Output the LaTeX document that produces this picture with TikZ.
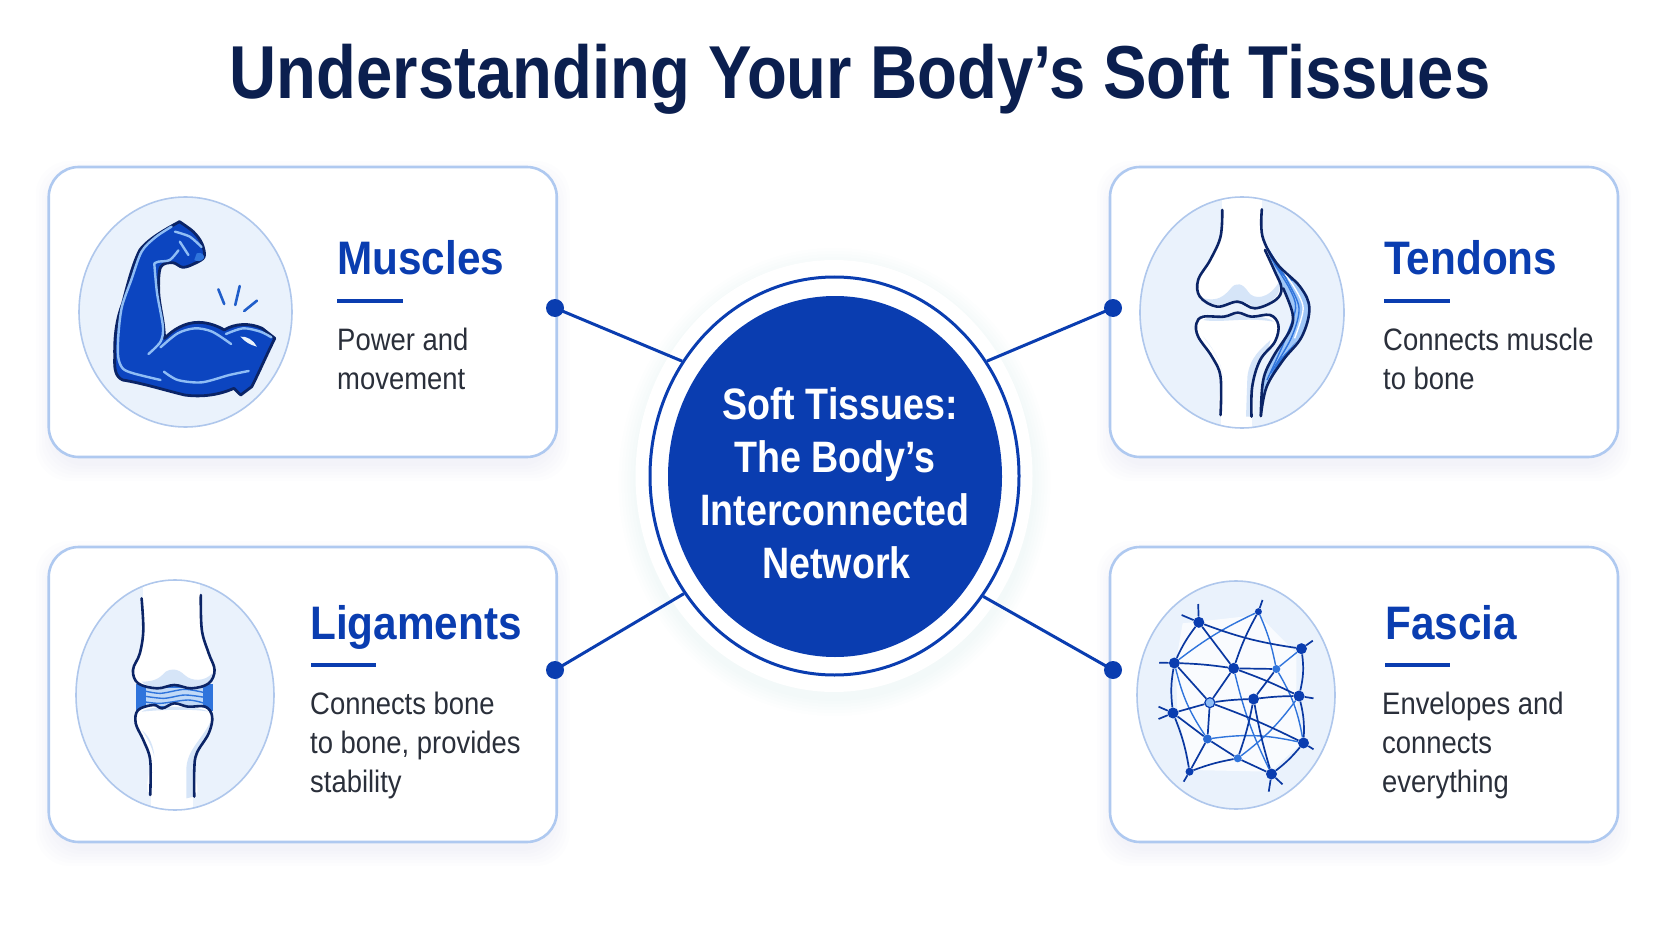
\documentclass[tikz,border=0pt]{standalone}
\usepackage{fontspec}
\usetikzlibrary{shapes.geometric}
\setmainfont{Liberation Sans}
\newfontfamily\titlefont[FakeStretch=0.87]{Liberation Sans}
\newfontfamily\headfont[FakeStretch=0.90]{Liberation Sans}
\newfontfamily\bodyfont[FakeStretch=0.885]{Liberation Sans}
\newfontfamily\hubfont[FakeStretch=0.855]{Liberation Sans}
\definecolor{navy}{HTML}{0B1F4F}
\definecolor{royal}{HTML}{0A3DB0}
\definecolor{muscleblue}{HTML}{0C45C0}
\definecolor{cardline}{HTML}{AFC9F0}
\definecolor{iconfill}{HTML}{EAF2FC}
\definecolor{iconline}{HTML}{AFC7EC}
\definecolor{bodyink}{HTML}{2A2F3A}
\definecolor{boneline}{HTML}{0B2466}
\definecolor{boneshade}{HTML}{D6E5F8}
\definecolor{glow}{HTML}{8FBDF5}
\definecolor{midblue}{HTML}{2F74DC}
\definecolor{shadowink}{HTML}{6F8FC8}
\tikzset{
  x=1pt, y=-1pt,
  cardbox/.style={draw=cardline, line width=2.6pt, fill=white, rounded corners=30pt,
    minimum width=508pt, inner sep=0pt},
  iconback/.style={ellipse, draw=iconline, line width=1.6pt, fill=iconfill, inner sep=0pt},
  heading/.style={anchor=base west, inner sep=0pt, text=royal, font=\headfont\bfseries\fontsize{47}{50}\selectfont},
  bodytext/.style={anchor=north west, inner sep=0pt, align=left, text=bodyink,
    font=\bodyfont\fontsize{31}{39.4}\selectfont},
  headrule/.style={draw=royal, line width=3.6pt},
  joiner/.style={draw=royal, line width=3pt},
  portdot/.style={circle, fill=royal, minimum size=18pt, inner sep=0pt},
  zoomed/.style={x=0.34435pt, y=-0.33333pt},
  bone/.style={draw=boneline, line width=2.6pt, line cap=round, line join=round},
  fasciadot/.style={circle, fill=#1, inner sep=0pt, minimum size=11pt},
  fasciadot/.default=royal,
  webdark/.style={draw=royal!85!navy, line width=1.7pt},
  weblight/.style={draw=midblue, line width=1.4pt},
}
\begin{document}
\begin{tikzpicture}
\useasboundingbox (0,0) rectangle (1672,941);
\fill[white] (0,0) rectangle (1672,941);

% soft shadows under the four cards
\foreach \cx/\cy/\ch in {302.75/312/290, 1364/312/290, 302.75/694.5/295, 1364/694.5/295}{
  \foreach \g in {16,13,...,1}{
    \fill[shadowink, opacity=0.012, rounded corners=34pt]
      (\cx-254-\g+3, \cy-\ch/2-\g+10) rectangle (\cx+254+\g-3, \cy+\ch/2+\g+8);
  }
}

% cards
\node[cardbox, minimum height=290pt] (cardA) at (302.75,312) {};
\node[cardbox, minimum height=290pt] (cardB) at (1364,312) {};
\node[cardbox, minimum height=295pt] (cardC) at (302.75,694.5) {};
\node[cardbox, minimum height=295pt] (cardD) at (1364,694.5) {};

% shadow and white halo of the central disc
\foreach \g in {18,15,...,1}{
  \fill[shadowink, opacity=0.009] (834.5,482) ellipse [x radius=198+\g, y radius=216+\g];
}
\node[ellipse, fill=white, minimum width=397pt, minimum height=432pt, inner sep=0pt] (halo) at (834,476) {};
\node[ellipse, draw=royal, line width=3pt, fill=white, minimum width=369pt, minimum height=398pt, inner sep=0pt] (hub) at (834.5,476) {};
\node[ellipse, fill=royal, minimum width=334pt, minimum height=361pt, inner sep=0pt] (hubcore) at (835,476.5) {};
\node[align=center, text=white, inner sep=0pt, font=\hubfont\bfseries\fontsize{44}{53}\selectfont] (hubtext) at (835,483)
  {\hspace*{10pt}Soft Tissues:\\The Body’s\\Interconnected\\\hspace*{3pt}Network};

% connectors with their end dots
\node[portdot] (dotA) at (555,308) {};
\node[portdot] (dotB) at (1113,308) {};
\node[portdot] (dotC) at (555,670) {};
\node[portdot] (dotD) at (1113,670) {};
\draw[joiner] (dotA.center) -- (hub.143);
\draw[joiner] (dotB.center) -- (hub.37);
\draw[joiner] (dotC.center) -- (hub.218.5);
\draw[joiner] (dotD.center) -- (hub.321.5);

% title
\node[anchor=base, inner sep=0pt, text=navy, font=\titlefont\bfseries\fontsize{75}{78}\selectfont] (title) at (860,99)
  {Understanding Your Body’s Soft Tissues};

% card text
\node[heading] (headA) at (337,275) {Muscles};
\draw[headrule] (337,301) -- (403,301);
\node[bodytext] (bodyA) at (337,327.5) {Power and\\movement};

\node[heading] (headB) at (1384,275) {Tendons};
\draw[headrule] (1384,301) -- (1450,301);
\node[bodytext] (bodyB) at (1383,327.5) {Connects muscle\\to bone};

\node[heading] (headC) at (310,639) {Ligaments};
\draw[headrule] (311,665) -- (376,665);
\node[bodytext] (bodyC) at (310,691.5) {Connects bone\\to bone, provides\\stability};

\node[heading] (headD) at (1385,639) {Fascia};
\draw[headrule] (1385,665) -- (1450,665);
\node[bodytext] (bodyD) at (1382,691.5) {Envelopes and\\connects\\everything};

% icon discs
\node[iconback, minimum width=213pt, minimum height=230pt] (iconA) at (185.5,312) {};
\node[iconback, minimum width=204pt, minimum height=231pt] (iconB) at (1242,312.5) {};
\node[iconback, minimum width=198pt, minimum height=230pt] (iconC) at (175,695) {};
\node[iconback, minimum width=198pt, minimum height=228pt] (iconD) at (1236,695) {};

% flexed arm
\begin{scope}[shift={(40,160)}, zoomed]
  \filldraw[draw=boneline, line width=2.8pt, fill=muscleblue, line join=round]
    plot[smooth, tension=0.55] coordinates {(405,185) (445,215) (470,250) (477,290) (450,310) (415,322) (385,308) (350,322) (345,400) (358,490) (362,535)}
    .. controls (385,510) and (420,487) .. (460,487)
    .. controls (490,487) and (520,500) .. (535,510)
    .. controls (565,490) and (610,488) .. (645,505)
    -- (682,535)
    .. controls (660,580) and (635,640) .. (615,680)
    -- (583,705) -- (563,685)
    .. controls (520,705) and (470,712) .. (420,705)
    .. controls (360,690) and (300,670) .. (240,660)
    .. controls (220,650) and (215,630) .. (217,590)
    .. controls (215,520) and (225,470) .. (240,430)
    .. controls (255,370) and (270,310) .. (290,270)
    .. controls (315,235) and (370,205) .. (405,185) -- cycle;
  \fill[midblue] (455,280) .. controls (470,275) and (478,285) .. (476,295) .. controls (470,305) and (455,305) .. (448,300) -- cycle;
  \begin{scope}[draw=glow, line width=2.4pt, line cap=round]
    \draw plot[smooth] coordinates {(382,200) (335,232) (295,275) (265,360) (238,440) (228,520) (227,590) (240,625) (271,640) (350,660)};
    \draw plot[smooth] coordinates {(332,312) (340,400) (357,500) (350,545) (315,582)};
    \draw plot[smooth] coordinates {(350,562) (400,520) (450,505) (500,515) (555,552)};
    \draw plot[smooth] coordinates {(540,522) (590,505) (640,515) (672,532)};
    \draw plot[smooth] coordinates {(360,635) (400,660) (470,667) (550,645) (606,633)};
    \draw plot[smooth] coordinates {(392,215) (435,230) (469,261)};
    \draw plot[smooth] coordinates {(406,245) (431,285)};
    \draw plot[smooth] coordinates {(332,310) (344,305) (377,300) (402,271)};
  \end{scope}
  \fill[iconfill] (582,530) .. controls (600,528) and (620,540) .. (630,560) .. controls (610,555) and (595,545) .. (582,530) -- cycle;
  \begin{scope}[draw=midblue!60!royal, line width=2.6pt, line cap=round]
    \draw (518,388) -- (535,432);
    \draw (580,378) -- (567,435);
    \draw (630,422) -- (593,453);
  \end{scope}
\end{scope}

% knee joint with tendon
\begin{scope}
\clip (iconB.center) ellipse [x radius=101, y radius=114.5];
\begin{scope}[shift={(1100,160)}, zoomed]
  \fill[white] (355,100) rectangle (470,160);
  \fill[white] (352,750) rectangle (440,820);
  \filldraw[fill=white, draw=none]
    plot[smooth, tension=0.6] coordinates {(355,150) (350,230) (320,300) (285,360) (290,410) (340,440) (400,425) (450,445) (510,420) (525,380) (500,300) (472,225) (470,150)};
  \fill[boneshade] (300,415) .. controls (340,425) and (360,410) .. (380,385)
    .. controls (395,365) and (415,370) .. (430,395)
    .. controls (445,420) and (490,420) .. (520,365)
    .. controls (530,400) and (505,430) .. (450,443)
    .. controls (430,430) and (410,420) .. (390,427)
    .. controls (360,440) and (320,440) .. (300,415) -- cycle;
  \filldraw[fill=white, draw=none]
    plot[smooth, tension=0.6] coordinates {(300,470) (360,470) (400,458) (440,470) (494,465) (518,495) (508,545) (465,600) (442,680) (440,770) (350,765) (350,650) (325,590) (285,530) (280,490)};
  \fill[boneshade] (300,480) .. controls (350,490) and (420,470) .. (505,485) .. controls (480,460) and (320,460) .. (300,480) -- cycle;
  \fill[boneshade] (300,530) .. controls (330,570) and (350,600) .. (357,650) .. controls (350,600) and (325,560) .. (300,530) -- cycle;
  \fill[boneshade] (495,540) .. controls (470,565) and (435,590) .. (428,650) -- (424,770) -- (440,770) -- (442,680) .. controls (450,620) and (490,580) .. (495,540) -- cycle;
  % tendon band
  \fill[glow!85!white]
    plot[smooth, tension=0.6] coordinates {(472,230) (513,310) (581,380) (608,445) (586,530) (532,600) (484,680) (467,768) (474,660) (503,590) (552,510) (559,460) (532,385) (500,310)};
  \fill[midblue] plot[smooth, tension=0.6] coordinates {(472,230) (513,310) (560,362) (530,345) (495,295)};
  \fill[midblue] plot[smooth, tension=0.6] coordinates {(570,545) (532,600) (484,680) (467,768) (482,680) (520,600)};
  \begin{scope}[line width=1.4pt]
    \draw[white] plot[smooth] coordinates {(505,300) (560,375) (590,445) (565,535)};
    \draw[midblue] plot[smooth] coordinates {(490,270) (545,365) (578,445) (555,535) (495,640)};
    \draw[midblue] plot[smooth] coordinates {(505,310) (550,385) (568,445) (535,545) (485,660)};
  \end{scope}
  \draw[bone] plot[smooth, tension=0.6] coordinates {(355,150) (350,230) (320,300) (285,360) (290,410) (340,440) (400,425) (450,445) (510,420) (527,385) (508,335) (479,270)};
  \draw[bone] plot[smooth, tension=0.6] coordinates {(350,765) (350,650) (325,590) (285,530) (280,490) (300,470) (360,470) (400,458) (440,470) (494,465) (518,495) (508,545) (465,600) (442,680) (440,770)};
  \draw[bone] plot[smooth, tension=0.6] coordinates {(470,148) (472,230) (513,310) (581,380) (608,445) (586,530) (532,600) (484,680) (467,768)};
  \draw[bone] plot[smooth, tension=0.6] coordinates {(532,385) (559,460) (552,510) (503,590) (474,660) (467,768)};
\end{scope}
\end{scope}

% knee joint with ligaments
\begin{scope}
\clip (iconC.center) ellipse [x radius=98, y radius=114];
\begin{scope}[shift={(40,540)}, zoomed]
  \fill[white] (298,110) rectangle (465,180);
  \fill[white] (322,750) rectangle (445,820);
  \fill[midblue] (280,432) rectangle (503,512);
  \fill[boneshade!70!glow] (308,445) rectangle (473,497);
  \begin{scope}[draw=midblue, line width=1.4pt]
    \draw plot[smooth] coordinates {(300,452) (350,460) (420,448) (478,458)};
    \draw plot[smooth] coordinates {(300,468) (360,475) (420,465) (478,472)};
    \draw plot[smooth] coordinates {(300,485) (350,490) (430,480) (478,490)};
  \end{scope}
  \filldraw[fill=white, draw=none]
    plot[smooth, tension=0.6] coordinates {(295,175) (300,270) (290,340) (270,390) (285,430) (340,445) (390,435) (440,445) (490,430) (507,390) (490,340) (470,270) (467,165)};
  \fill[boneshade] (295,425) .. controls (340,425) and (350,410) .. (365,395)
    .. controls (380,385) and (400,385) .. (420,405)
    .. controls (440,425) and (480,425) .. (500,400)
    .. controls (500,425) and (480,435) .. (440,443)
    .. controls (410,432) and (380,432) .. (340,443)
    .. controls (320,440) and (305,435) .. (295,425) -- cycle;
  \filldraw[fill=white, draw=none]
    plot[smooth, tension=0.6] coordinates {(285,510) (330,495) (355,505) (390,490) (430,500) (480,500) (500,530) (490,580) (455,640) (448,690) (448,770) (320,765) (320,660) (300,600) (278,550)};
  \fill[boneshade] (295,515) .. controls (340,510) and (440,505) .. (490,515) .. controls (450,495) and (320,495) .. (295,515) -- cycle;
  \fill[boneshade] (495,545) .. controls (470,600) and (425,630) .. (425,690) -- (425,775) -- (447,770) -- (448,690) .. controls (455,630) and (490,590) .. (495,545) -- cycle;
  \fill[boneshade] (295,570) .. controls (320,590) and (330,620) .. (332,650) .. controls (325,620) and (310,590) .. (295,570) -- cycle;
  \draw[bone] plot[smooth, tension=0.6] coordinates {(295,175) (300,270) (290,340) (270,390) (285,430) (340,445) (390,435) (440,445) (490,430) (507,390) (490,340) (470,270) (467,165)};
  \draw[bone] plot[smooth, tension=0.6] coordinates {(320,765) (320,660) (300,600) (278,550) (285,510) (330,495) (355,505) (390,490) (430,500) (480,500) (500,530) (490,580) (455,640) (448,690) (448,770)};
\end{scope}
\end{scope}

% fascia web
\begin{scope}[shift={(1100,540)}, zoomed]
  \fill[white, opacity=0.75] (240,250) -- (460,225) -- (570,340) -- (570,470) -- (585,610) -- (495,695) -- (265,690) -- (225,520) -- (220,370) -- cycle;
  \node[fasciadot] (fa) at (287,247) {};
  \node[fasciadot=royal, minimum size=7pt] (fb) at (460,215) {};
  \node[fasciadot] (fc) at (585,326) {};
  \node[fasciadot] (fd) at (216,369) {};
  \node[fasciadot] (fe) at (388,385) {};
  \node[fasciadot=midblue, minimum size=8pt] (ff) at (512,387) {};
  \node[fasciadot] (fg) at (578,468) {};
  \node[circle, fill=glow, draw=royal, line width=1.2pt, minimum size=10pt, inner sep=0pt] (fh) at (319,488) {};
  \node[fasciadot] (fi) at (446,477) {};
  \node[fasciadot] (fj) at (212,519) {};
  \node[fasciadot=midblue!80!royal, minimum size=9pt] (fk) at (312,597) {};
  \node[fasciadot] (fl) at (591,609) {};
  \node[fasciadot=midblue, minimum size=8pt] (fm) at (400,655) {};
  \node[fasciadot=royal, minimum size=8pt] (fn) at (260,695) {};
  \node[fasciadot] (fo) at (498,702) {};
  \coordinate (sa) at (285,192); \coordinate (sb) at (237,225);
  \coordinate (sc) at (472,180); \coordinate (sd) at (618,302);
  \coordinate (se) at (172,368); \coordinate (sf) at (620,475);
  \coordinate (sg) at (170,500); \coordinate (sh) at (170,537);
  \coordinate (si) at (620,628); \coordinate (sj) at (490,755);
  \coordinate (sk) at (530,733); \coordinate (sl) at (243,725);
  \begin{scope}[weblight]
    \draw (fb) to[bend right=6] (fd);
    \draw (fb) to[bend left=6] (ff);
    \draw (ff) to[bend left=10] (fl);
    \draw (fe) to[bend right=6] (fo);
    \draw (fm) to[bend right=8] (fg);
    \draw (fk) to[bend left=10] (fl);
    \draw (fd) to[bend right=10] (fk);
    \draw (ff) to (fc);
  \end{scope}
  \begin{scope}[webdark]
    \draw (fa) -- (fe);
    \draw (fa) to[bend right=6] (fd);
    \draw (fa) to[bend right=6] (fc);
    \draw (fb) to[bend right=5] (fe);
    \draw (fd) to[bend left=3] (fe);
    \draw (fe) -- (ff);
    \draw (fe) -- (fh);
    \draw (fe) to[bend left=3] (fg);
    \draw (fd) -- (fh);
    \draw (fd) to[bend right=8] (fj);
    \draw (fj) -- (fh);
    \draw (fh) to[bend left=3] (fi);
    \draw (fi) to[bend left=3] (fg);
    \draw (fh) to[bend left=3] (fl);
    \draw (fi) -- (ff);
    \draw (fi) to[bend left=4] (fm);
    \draw (fk) -- (fm);
    \draw (fm) -- (fo);
    \draw (fk) -- (fn);
    \draw (fn) to[bend left=5] (fm);
    \draw (fj) -- (fk);
    \draw (fj) to[bend left=6] (fn);
    \draw (fk) -- (fh);
    \draw (fc) to[bend left=10] (fg);
    \draw (fg) to[bend left=8] (fl);
    \draw (fl) to[bend left=6] (fo);
    \draw (fo) to[bend left=3] (fi);
    \draw (fa) -- (sa); \draw (fa) -- (sb);
    \draw (fb) -- (sc); \draw (fc) -- (sd);
    \draw (fd) -- (se); \draw (fg) -- (sf);
    \draw (fj) -- (sg); \draw (fj) -- (sh);
    \draw (fl) -- (si); \draw (fo) -- (sj);
    \draw (fo) -- (sk); \draw (fn) -- (sl);
  \end{scope}
\end{scope}
\end{tikzpicture}
\end{document}
